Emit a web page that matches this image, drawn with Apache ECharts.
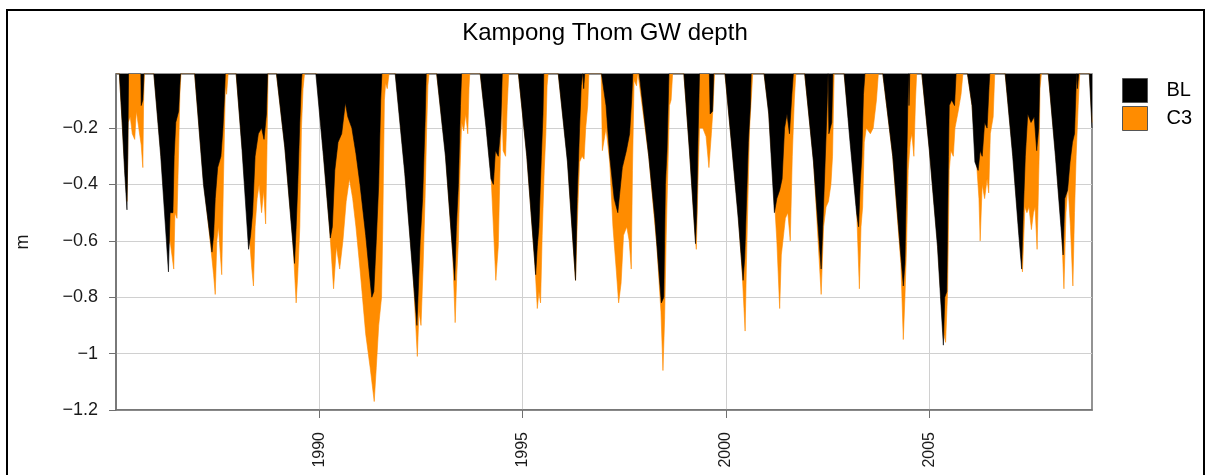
<!DOCTYPE html>
<html>
<head>
<meta charset="utf-8">
<title>Kampong Thom GW depth</title>
<script src="https://cdn.jsdelivr.net/npm/echarts@6/dist/echarts.min.js"></script>
<style>
  html, body { margin: 0; padding: 0; background: #fff; }
  #chart { width: 1211px; height: 475px; }
</style>
</head>
<body>
<div id="chart"></div>
<script>
// Groundwater depth below surface (m, negative downward), decimal years
const blYear = [
  1985.00, 1985.08, 1985.15, 1985.21, 1985.27, 1985.29, 1985.31, 1985.61, 1985.62, 1985.66, 1985.69,
  1985.925, 1986.10, 1986.29, 1986.33, 1986.40, 1986.43, 1986.47, 1986.54, 1986.57, 1986.59,
  1986.93, 1987.15, 1987.36, 1987.40, 1987.44, 1987.50, 1987.58, 1987.63, 1987.67, 1987.69,
  1987.95, 1988.10, 1988.26, 1988.31, 1988.36, 1988.42, 1988.50, 1988.58, 1988.64, 1988.70, 1988.73,
  1988.94, 1989.15, 1989.39, 1989.43, 1989.47, 1989.52, 1989.56, 1989.58,
  1989.91, 1990.10, 1990.27, 1990.32, 1990.38, 1990.46, 1990.55, 1990.64, 1990.70, 1990.80, 1990.90,
  1991.00, 1991.14, 1991.22, 1991.29, 1991.34, 1991.40, 1991.46, 1991.51, 1991.54,
  1991.86, 1992.10, 1992.30, 1992.40, 1992.44, 1992.48, 1992.54, 1992.60, 1992.63,
  1992.88, 1993.10, 1993.33, 1993.37, 1993.42, 1993.47, 1993.50,
  1993.95, 1994.10, 1994.22, 1994.28, 1994.33, 1994.40, 1994.46, 1994.50,
  1994.89, 1995.10, 1995.32, 1995.36, 1995.40, 1995.46, 1995.50, 1995.52,
  1995.87, 1996.10, 1996.30, 1996.34, 1996.40, 1996.44, 1996.48, 1996.50, 1996.53,
  1996.93, 1997.05, 1997.14, 1997.25, 1997.34, 1997.38, 1997.45, 1997.55, 1997.63, 1997.68, 1997.71,
  1997.86, 1998.10, 1998.25, 1998.41, 1998.47, 1998.51, 1998.55, 1998.59, 1998.60,
  1998.96, 1999.10, 1999.25, 1999.28, 1999.31, 1999.35, 1999.59, 1999.61, 1999.67, 1999.70,
  1999.97, 2000.15, 2000.30, 2000.42, 2000.46, 2000.50, 2000.55, 2000.60, 2000.62,
  2000.93, 2001.05, 2001.19, 2001.25, 2001.32, 2001.38, 2001.44, 2001.50, 2001.56, 2001.62, 2001.66,
  2001.93, 2002.15, 2002.34, 2002.38, 2002.43, 2002.48, 2002.51, 2002.53, 2002.60, 2002.63,
  2002.90, 2003.05, 2003.21, 2003.26, 2003.30, 2003.34, 2003.38, 2003.42,
  2003.85, 2004.10, 2004.36, 2004.40, 2004.43, 2004.47, 2004.49, 2004.50, 2004.52,
  2004.81, 2005.00, 2005.20, 2005.345, 2005.38, 2005.43, 2005.47, 2005.49, 2005.55, 2005.62, 2005.66,
  2005.93, 2006.05, 2006.12, 2006.20, 2006.25, 2006.30, 2006.36, 2006.42, 2006.47, 2006.49,
  2006.86, 2007.05, 2007.20, 2007.27, 2007.31, 2007.36, 2007.42, 2007.50, 2007.58, 2007.64, 2007.69, 2007.72,
  2007.92, 2008.10, 2008.29, 2008.33, 2008.40, 2008.46, 2008.52, 2008.57, 2008.61, 2008.63, 2008.64, 2008.68,
  2008.93, 2009.00
];
const blDepth = [
  0, 0, -0.18, -0.35, -0.49, -0.30, 0, 0, -0.12, -0.10, 0,
  0, -0.30, -0.71, -0.50, -0.50, -0.30, -0.18, -0.14, -0.05, 0,
  0, -0.40, -0.64, -0.58, -0.45, -0.34, -0.30, -0.20, -0.08, 0,
  0, -0.28, -0.63, -0.58, -0.50, -0.30, -0.22, -0.20, -0.24, -0.15, 0,
  0, -0.27, -0.68, -0.55, -0.40, -0.18, -0.03, 0,
  0, -0.30, -0.59, -0.55, -0.35, -0.25, -0.22, -0.11, -0.16, -0.20, -0.29,
  -0.40, -0.58, -0.70, -0.80, -0.78, -0.60, -0.40, -0.10, 0,
  0, -0.36, -0.72, -0.90, -0.75, -0.60, -0.45, -0.18, 0,
  0, -0.30, -0.74, -0.55, -0.40, -0.12, 0,
  0, -0.20, -0.38, -0.40, -0.28, -0.30, -0.20, 0,
  0, -0.30, -0.72, -0.62, -0.55, -0.30, -0.15, 0,
  0, -0.32, -0.74, -0.45, -0.20, -0.05, 0, -0.06, 0,
  0, -0.12, -0.30, -0.45, -0.50, -0.44, -0.34, -0.28, -0.22, -0.10, 0,
  0, -0.30, -0.52, -0.82, -0.80, -0.40, -0.28, -0.05, 0,
  0, -0.28, -0.61, -0.50, -0.25, 0, 0, -0.15, -0.14, 0,
  0, -0.28, -0.52, -0.74, -0.66, -0.48, -0.25, -0.12, 0,
  0, -0.15, -0.50, -0.45, -0.42, -0.38, -0.20, -0.15, -0.22, -0.08, 0,
  0, -0.32, -0.70, -0.55, -0.35, -0.15, 0, -0.22, -0.18, 0,
  0, -0.25, -0.50, -0.55, -0.40, -0.30, -0.08, 0,
  0, -0.30, -0.76, -0.68, -0.45, -0.12, 0, -0.12, 0,
  0, -0.28, -0.62, -0.97, -0.80, -0.78, -0.30, -0.12, -0.10, -0.12, 0,
  0, -0.12, -0.32, -0.35, -0.28, -0.30, -0.18, -0.20, -0.05, 0,
  0, -0.30, -0.58, -0.70, -0.50, -0.30, -0.15, -0.18, -0.16, -0.28, -0.20, 0,
  0, -0.30, -0.65, -0.45, -0.42, -0.32, -0.25, -0.22, -0.05, 0, -0.06, 0,
  0, -0.20
];

const c3Year = [
  1985.00, 1985.08, 1985.20, 1985.27, 1985.30, 1985.35, 1985.40, 1985.46, 1985.50, 1985.56, 1985.62, 1985.66, 1985.68, 1985.70,
  1985.93, 1986.10, 1986.28, 1986.33, 1986.42, 1986.45, 1986.50, 1986.54, 1986.57, 1986.60,
  1986.93, 1987.15, 1987.30, 1987.40, 1987.44, 1987.48, 1987.52, 1987.60, 1987.64, 1987.69, 1987.72, 1987.76,
  1987.95, 1988.10, 1988.26, 1988.34, 1988.38, 1988.42, 1988.47, 1988.52, 1988.58, 1988.63, 1988.68, 1988.71, 1988.74,
  1988.94, 1989.15, 1989.35, 1989.43, 1989.47, 1989.52, 1989.56, 1989.60, 1989.64,
  1989.93, 1990.10, 1990.25, 1990.35, 1990.42, 1990.50, 1990.58, 1990.66, 1990.74, 1990.82, 1990.90,
  1991.00, 1991.14, 1991.25, 1991.35, 1991.40, 1991.46, 1991.53, 1991.56, 1991.60, 1991.63, 1991.67, 1991.72,
  1991.87, 1992.10, 1992.30, 1992.41, 1992.45, 1992.50, 1992.55, 1992.60, 1992.64, 1992.67, 1992.70,
  1992.88, 1993.10, 1993.28, 1993.34, 1993.38, 1993.42, 1993.46, 1993.50, 1993.55, 1993.60, 1993.65, 1993.68, 1993.70,
  1993.95, 1994.10, 1994.22, 1994.28, 1994.34, 1994.40, 1994.45, 1994.49, 1994.52, 1994.58, 1994.62, 1994.66,
  1994.89, 1995.10, 1995.30, 1995.36, 1995.40, 1995.44, 1995.48, 1995.53, 1995.57, 1995.60, 1995.63,
  1995.87, 1996.10, 1996.30, 1996.34, 1996.40, 1996.46, 1996.51, 1996.55, 1996.60, 1996.63,
  1996.93, 1996.96, 1997.05, 1997.14, 1997.22, 1997.30, 1997.36, 1997.42, 1997.48, 1997.56, 1997.62, 1997.67, 1997.70, 1997.74, 1997.80, 1997.83,
  1997.86, 1998.10, 1998.30, 1998.40, 1998.45, 1998.49, 1998.53, 1998.57, 1998.61, 1998.65, 1998.69,
  1998.96, 1999.10, 1999.25, 1999.27, 1999.31, 1999.35, 1999.43, 1999.51, 1999.58, 1999.64, 1999.68, 1999.72,
  1999.97, 2000.15, 2000.30, 2000.40, 2000.47, 2000.50, 2000.54, 2000.58, 2000.62, 2000.66,
  2000.93, 2001.05, 2001.19, 2001.25, 2001.32, 2001.36, 2001.40, 2001.46, 2001.52, 2001.58, 2001.63, 2001.68, 2001.72,
  2001.93, 2002.15, 2002.34, 2002.40, 2002.46, 2002.52, 2002.58, 2002.62, 2002.66,
  2002.90, 2003.05, 2003.21, 2003.28, 2003.32, 2003.36, 2003.40, 2003.45, 2003.55, 2003.62, 2003.70, 2003.75,
  2003.85, 2004.10, 2004.30, 2004.36, 2004.40, 2004.44, 2004.48, 2004.53, 2004.57, 2004.62, 2004.66, 2004.69,
  2004.81, 2005.00, 2005.20, 2005.34, 2005.40, 2005.45, 2005.49, 2005.53, 2005.59, 2005.63, 2005.71, 2005.78, 2005.83,
  2005.93, 2006.05, 2006.15, 2006.22, 2006.25, 2006.30, 2006.36, 2006.42, 2006.46, 2006.50, 2006.57, 2006.61,
  2006.86, 2007.05, 2007.20, 2007.29, 2007.35, 2007.40, 2007.45, 2007.51, 2007.56, 2007.60, 2007.65, 2007.70, 2007.72, 2007.76,
  2007.92, 2008.10, 2008.25, 2008.31, 2008.36, 2008.41, 2008.47, 2008.53, 2008.57, 2008.61, 2008.66, 2008.70,
  2008.94, 2009.00
];
const c3Depth = [
  0, 0, -0.30, -0.46, -0.18, -0.16, -0.22, -0.24, -0.14, -0.20, -0.26, -0.34, -0.10, 0,
  0, -0.28, -0.62, -0.60, -0.70, -0.50, -0.52, -0.28, -0.08, 0,
  0, -0.38, -0.58, -0.72, -0.79, -0.60, -0.55, -0.72, -0.40, -0.05, -0.08, 0,
  0, -0.26, -0.55, -0.70, -0.76, -0.55, -0.45, -0.40, -0.50, -0.42, -0.54, -0.30, 0,
  0, -0.26, -0.60, -0.82, -0.72, -0.55, -0.20, -0.06, 0,
  0, -0.28, -0.55, -0.77, -0.62, -0.70, -0.60, -0.46, -0.38, -0.45, -0.55,
  -0.70, -0.93, -1.05, -1.17, -1.05, -0.90, -0.80, -0.55, -0.10, -0.04, -0.06, 0,
  0, -0.34, -0.70, -1.01, -0.85, -0.90, -0.70, -0.45, -0.20, -0.05, 0,
  0, -0.28, -0.65, -0.89, -0.72, -0.60, -0.35, -0.18, -0.21, -0.15, -0.22, -0.06, 0,
  0, -0.18, -0.36, -0.55, -0.74, -0.62, -0.30, -0.10, -0.28, -0.30, -0.12, 0,
  0, -0.29, -0.68, -0.84, -0.78, -0.82, -0.58, -0.35, -0.22, -0.05, 0,
  0, -0.30, -0.74, -0.55, -0.32, -0.30, -0.31, -0.20, -0.12, 0,
  0, -0.28, -0.20, -0.32, -0.55, -0.70, -0.82, -0.75, -0.58, -0.55, -0.60, -0.70, -0.35, -0.03, -0.05, 0,
  0, -0.30, -0.62, -0.85, -1.06, -0.88, -0.58, -0.35, -0.12, -0.10, 0,
  0, -0.27, -0.60, -0.63, -0.40, -0.20, -0.20, -0.23, -0.34, -0.22, -0.13, 0,
  0, -0.27, -0.50, -0.72, -0.92, -0.70, -0.45, -0.20, -0.10, 0,
  0, -0.14, -0.45, -0.60, -0.84, -0.65, -0.60, -0.52, -0.50, -0.60, -0.30, -0.10, 0,
  0, -0.31, -0.79, -0.55, -0.48, -0.46, -0.40, -0.30, 0,
  0, -0.22, -0.48, -0.77, -0.55, -0.48, -0.25, -0.20, -0.22, -0.20, -0.10, 0,
  0, -0.30, -0.68, -0.95, -0.80, -0.62, -0.35, -0.25, -0.22, -0.30, -0.10, 0,
  0, -0.27, -0.60, -0.92, -0.96, -0.78, -0.35, -0.28, -0.30, -0.20, -0.14, -0.08, 0,
  0, -0.12, -0.30, -0.45, -0.60, -0.40, -0.45, -0.38, -0.43, -0.22, -0.16, 0,
  0, -0.28, -0.55, -0.71, -0.48, -0.50, -0.48, -0.56, -0.50, -0.48, -0.63, -0.30, -0.06, 0,
  0, -0.28, -0.55, -0.77, -0.50, -0.40, -0.55, -0.76, -0.50, -0.30, -0.12, 0,
  0, -0.18
];

// Axis ticks and labels
const yearTicks = [1990, 1995, 2000, 2005];
const depthTicks = [-1.2, -1.0, -0.8, -0.6, -0.4, -0.2];

const seriesNames = ['BL', 'C3'];
const colorBL = '#000000';
const colorC3 = '#FF8C00';

const FONT = '"Liberation Sans", Arial, sans-serif';

function pairs(xs, ys) {
  return xs.map((x, i) => [x, ys[i]]);
}

const chart = echarts.init(document.getElementById('chart'), null, { renderer: 'canvas' });

chart.setOption({
  animation: false,
  backgroundColor: '#ffffff',
  textStyle: { fontFamily: FONT },
  title: {
    text: 'Kampong Thom GW depth',
    left: 600,
    textAlign: 'center',
    top: 16,
    textStyle: { fontFamily: FONT, fontSize: 24, fontWeight: 'normal', color: '#000' }
  },
  graphic: [{
    type: 'rect',
    shape: { x: 7, y: 10, width: 1197, height: 480 },
    style: { fill: 'none', stroke: '#000', lineWidth: 2 },
    silent: true,
    z: 100
  }],
  legend: {
    orient: 'vertical',
    left: 1117,
    top: 73,
    itemWidth: 25,
    itemHeight: 24,
    itemGap: 3,
    icon: 'rect',
    data: seriesNames,
    itemStyle: { borderColor: '#555', borderWidth: 1 },
    textStyle: { fontFamily: FONT, fontSize: 20, color: '#000', padding: [0, 0, 0, 14] },
    selectedMode: false
  },
  grid: {
    left: 116,
    right: 119,
    top: 74,
    bottom: 65,
    show: true,
    borderColor: '#707070',
    borderWidth: 1.5,
    backgroundColor: 'transparent'
  },
  xAxis: {
    type: 'value',
    min: 1985,
    max: 2009,
    interval: 5,
    axisLine: { show: true, onZero: false, lineStyle: { color: '#707070', width: 1.5 } },
    axisTick: { show: true, customValues: yearTicks, length: 8, lineStyle: { color: '#707070' } },
    axisLabel: {
      customValues: yearTicks,
      rotate: 90,
      margin: 22,
      fontSize: 16,
      color: '#1a1a1a',
      fontFamily: FONT,
      formatter: v => String(Math.round(v))
    },
    splitLine: { show: true, lineStyle: { color: '#d0d0d0', width: 1 } }
  },
  yAxis: {
    type: 'value',
    min: -1.2,
    max: -0.008,
    interval: 0.2,
    name: 'm',
    nameLocation: 'middle',
    nameGap: 84,
    nameRotate: 90,
    nameTextStyle: { fontFamily: FONT, fontSize: 18, color: '#1a1a1a' },
    axisLine: { show: true, lineStyle: { color: '#707070', width: 1.5 } },
    axisTick: { show: true, customValues: depthTicks, length: 7, lineStyle: { color: '#707070' } },
    axisLabel: {
      customValues: depthTicks,
      margin: 18,
      fontSize: 18,
      color: '#1a1a1a',
      fontFamily: FONT,
      formatter: v => {
        const r = Math.round(v * 10) / 10;
        return (r < 0 ? '\u2212' : '') + String(Math.abs(r));
      }
    },
    splitLine: { show: true, lineStyle: { color: '#d0d0d0', width: 1 } }
  },
  series: [
    {
      name: 'C3',
      type: 'line',
      data: pairs(c3Year, c3Depth),
      symbol: 'none',
      showSymbol: false,
      sampling: 'none',
      silent: true,
      clip: true,
      itemStyle: { color: colorC3 },
      lineStyle: { color: colorC3, width: 0.6 },
      areaStyle: { color: colorC3, opacity: 1, origin: 'end' },
      z: 2
    },
    {
      name: 'BL',
      type: 'line',
      data: pairs(blYear, blDepth),
      symbol: 'none',
      showSymbol: false,
      sampling: 'none',
      silent: true,
      clip: true,
      itemStyle: { color: colorBL },
      lineStyle: { color: colorBL, width: 0.6 },
      areaStyle: { color: colorBL, opacity: 1, origin: 'end' },
      z: 3
    }
  ]
});
</script>
</body>
</html>
